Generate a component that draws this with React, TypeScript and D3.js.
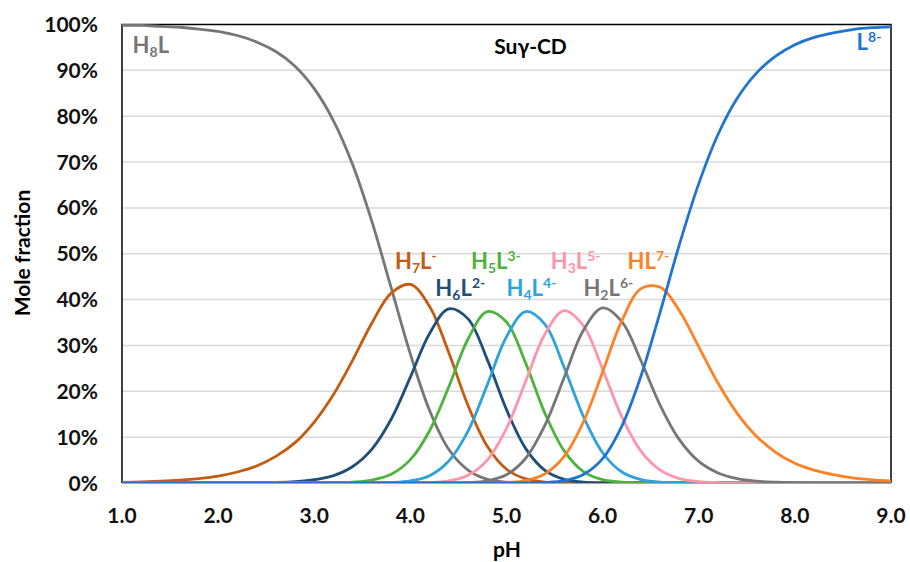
import React, { useRef, useEffect } from "react";
import * as d3 from "d3";

// pH grid and mole fractions (%)
const ph = [
  1.0, 1.2, 1.4, 1.6, 1.8, 2.0, 2.2, 2.4, 2.6, 2.8, 3.0, 3.2, 3.4, 3.6, 3.8, 4.0, 4.2, 4.4, 4.6, 4.8, 5.0,
  5.2, 5.4, 5.6, 5.8, 6.0, 6.2, 6.4, 6.6, 6.8, 7.0, 7.2, 7.4, 7.6, 7.8, 8.0, 8.2, 8.4, 8.6, 8.8, 9.0,
];

const h8l = [
  99.8, 99.8, 99.6, 99.4, 99.0, 98.5, 97.6, 96.2, 94.1, 90.9, 86.0, 79.0, 69.4, 57.0, 42.6, 28.1, 15.8, 7.3, 2.8, 0.8, 0.2,
  0.04, 0.01, 0, 0, 0, 0, 0, 0, 0, 0, 0, 0, 0, 0, 0, 0, 0, 0, 0, 0,
];
const h7l = [
  0.15, 0.24, 0.39, 0.61, 0.96, 1.5, 2.4, 3.7, 5.8, 8.8, 13.3, 19.3, 26.8, 34.9, 41.4, 43.3, 38.5, 28.4, 16.9, 8.0, 3.0,
  0.9, 0.21, 0.04, 0, 0, 0, 0, 0, 0, 0, 0, 0, 0, 0, 0, 0, 0, 0, 0, 0,
];
const h6l = [
  0, 0, 0, 0, 0, 0, 0.02, 0.05, 0.12, 0.3, 0.71, 1.6, 3.6, 7.4, 13.9, 23.1, 32.6, 38.0, 35.8, 26.9, 16.0,
  7.5, 2.75, 0.8, 0.18, 0.03, 0, 0, 0, 0, 0, 0, 0, 0, 0, 0, 0, 0, 0, 0, 0,
];
const h5l = [
  0, 0, 0, 0, 0, 0, 0, 0, 0, 0, 0.02, 0.06, 0.2, 0.65, 1.9, 5.1, 11.4, 21.0, 31.4, 37.4, 35.1,
  26.1, 15.2, 7.0, 2.5, 0.73, 0.17, 0.03, 0, 0, 0, 0, 0, 0, 0, 0, 0, 0, 0, 0, 0,
];
const h4l = [
  0, 0, 0, 0, 0, 0, 0, 0, 0, 0, 0, 0, 0, 0.02, 0.11, 0.46, 1.6, 4.8, 11.3, 21.4, 31.9,
  37.4, 34.6, 25.2, 14.5, 6.6, 2.4, 0.73, 0.19, 0.04, 0, 0, 0, 0, 0, 0, 0, 0, 0, 0, 0,
];
const h3l = [
  0, 0, 0, 0, 0, 0, 0, 0, 0, 0, 0, 0, 0, 0, 0, 0.02, 0.1, 0.45, 1.7, 5.0, 11.9,
  22.2, 32.5, 37.6, 34.3, 24.8, 14.4, 6.9, 2.8, 0.96, 0.3, 0.09, 0.02, 0, 0, 0, 0, 0, 0, 0, 0,
];
const h2l = [
  0, 0, 0, 0, 0, 0, 0, 0, 0, 0, 0, 0, 0, 0, 0, 0, 0, 0.02, 0.1, 0.49, 1.8,
  5.4, 12.6, 23.0, 33.3, 38.2, 35.2, 26.6, 16.9, 9.4, 4.7, 2.2, 0.95, 0.4, 0.17, 0.07, 0.03, 0, 0, 0, 0,
];
const hl = [
  0, 0, 0, 0, 0, 0, 0, 0, 0, 0, 0, 0, 0, 0, 0, 0, 0, 0, 0, 0.02, 0.12,
  0.54, 2.0, 5.8, 13.3, 24.2, 35.4, 42.4, 42.7, 37.5, 29.7, 21.8, 15.2, 10.2, 6.7, 4.3, 2.8, 1.8, 1.1, 0.7, 0.45,
];
const l8 = [
  0, 0, 0, 0, 0, 0, 0, 0, 0, 0, 0, 0, 0, 0, 0, 0, 0, 0, 0, 0, 0,
  0.02, 0.11, 0.51, 1.85, 5.3, 12.4, 23.4, 37.4, 52.1, 65.3, 76.0, 83.9, 89.4, 93.1, 95.6, 97.2, 98.2, 98.9, 99.3, 99.5,
];

const xTicks = [1, 2, 3, 4, 5, 6, 7, 8, 9];
const yTicks = [0, 10, 20, 30, 40, 50, 60, 70, 80, 90, 100];

const series = [
  { key: "H8L", values: h8l, color: "#767676" },
  { key: "H7L", values: h7l, color: "#c55a11" },
  { key: "H6L", values: h6l, color: "#1f4e79" },
  { key: "H5L", values: h5l, color: "#4cb33c" },
  { key: "H4L", values: h4l, color: "#2ea2dd" },
  { key: "H3L", values: h3l, color: "#ff94aa" },
  { key: "H2L", values: h2l, color: "#767676" },
  { key: "HL", values: hl, color: "#ff8125" },
  { key: "L", values: l8, color: "#1f74d2" },
];

// label text pieces, anchored in data units (pH, %)
const labels = [
  { base: "H", sub: "8", tail: "L", sup: "", x: 1.11, y: 93.8, color: "#767676", anchor: "start" },
  { base: "H", sub: "7", tail: "L", sup: "-", x: 3.84, y: 46.6, color: "#c55a11", anchor: "start" },
  { base: "H", sub: "6", tail: "L", sup: "2-", x: 4.26, y: 40.8, color: "#1f4e79", anchor: "start" },
  { base: "H", sub: "5", tail: "L", sup: "3-", x: 4.63, y: 46.6, color: "#4cb33c", anchor: "start" },
  { base: "H", sub: "4", tail: "L", sup: "4-", x: 5.0, y: 40.8, color: "#2ea2dd", anchor: "start" },
  { base: "H", sub: "3", tail: "L", sup: "5-", x: 5.46, y: 46.6, color: "#ff94aa", anchor: "start" },
  { base: "H", sub: "2", tail: "L", sup: "6-", x: 5.8, y: 40.8, color: "#767676", anchor: "start" },
  { base: "H", sub: "", tail: "L", sup: "7-", x: 6.26, y: 46.6, color: "#ff8125", anchor: "start" },
  { base: "", sub: "", tail: "L", sup: "8-", x: 8.9, y: 94.4, color: "#1f74d2", anchor: "end" },
];

const FONT = "Lato, 'Open Sans', sans-serif";

const App = () => {
  const container = useRef(null);

  const width = 910;
  const height = 562;
  const left = 122;
  const right = 891;
  const top = 24.5;
  const bottom = 483;

  useEffect(() => {
    const svg = d3.select(container.current);
    svg.selectAll("*").remove();

    const xScale = d3.scaleLinear().domain([1, 9]).range([left, right]);
    const yScale = d3.scaleLinear().domain([0, 100]).range([bottom, top]);

    svg
      .append("defs")
      .append("clipPath")
      .attr("id", "plot-clip")
      .append("rect")
      .attr("x", left)
      .attr("y", top - 2)
      .attr("width", right - left)
      .attr("height", bottom - top + 2);

    // gridlines
    svg
      .append("g")
      .selectAll("line")
      .data(yTicks.filter((t) => t > 0 && t < 100))
      .enter()
      .append("line")
      .attr("x1", left)
      .attr("x2", right)
      .attr("y1", (d) => yScale(d))
      .attr("y2", (d) => yScale(d))
      .attr("stroke", "#d9d9d9")
      .attr("stroke-width", 1.5);

    // bottom axis line
    svg
      .append("line")
      .attr("x1", left)
      .attr("x2", right)
      .attr("y1", bottom)
      .attr("y2", bottom)
      .attr("stroke", "#8a8a8a")
      .attr("stroke-width", 1.5);

    // frame left/top/right
    svg
      .append("path")
      .attr("d", `M${left},${bottom}V${top}H${right}V${bottom}`)
      .attr("fill", "none")
      .attr("stroke", "#000")
      .attr("stroke-width", 1.5);

    // curves
    const line = d3
      .line<number>()
      .x((d, i) => xScale(ph[i]))
      .y((d) => yScale(d))
      .curve(d3.curveCatmullRom.alpha(0.5));

    svg
      .append("g")
      .attr("clip-path", "url(#plot-clip)")
      .selectAll("path")
      .data(series)
      .enter()
      .append("path")
      .attr("d", (d) => line(d.values))
      .attr("fill", "none")
      .attr("stroke", (d) => d.color)
      .attr("stroke-width", 2.8)
      .attr("stroke-linejoin", "round");

    // y tick labels
    svg
      .append("g")
      .selectAll("text")
      .data(yTicks)
      .enter()
      .append("text")
      .attr("x", 98)
      .attr("y", (d) => yScale(d))
      .attr("dy", "0.36em")
      .attr("text-anchor", "end")
      .style("font-family", FONT)
      .style("font-weight", "bold")
      .style("font-size", "21px")
      .style("fill", "#111")
      .text((d) => `${d}%`);

    // x tick labels
    svg
      .append("g")
      .selectAll("text")
      .data(xTicks)
      .enter()
      .append("text")
      .attr("x", (d) => xScale(d))
      .attr("y", 523)
      .attr("text-anchor", "middle")
      .style("font-family", FONT)
      .style("font-weight", "bold")
      .style("font-size", "21px")
      .style("fill", "#111")
      .text((d) => d.toFixed(1));

    // axis titles
    svg
      .append("text")
      .attr("x", 507)
      .attr("y", 557)
      .attr("text-anchor", "middle")
      .style("font-family", FONT)
      .style("font-weight", "bold")
      .style("font-size", "21px")
      .text("pH");

    svg
      .append("text")
      .attr("transform", `translate(30, 253) rotate(-90)`)
      .attr("text-anchor", "middle")
      .style("font-family", FONT)
      .style("font-weight", "bold")
      .style("font-size", "21px")
      .text("Mole fraction");

    // chart title
    svg
      .append("text")
      .attr("x", xScale(5.25))
      .attr("y", yScale(93.6))
      .attr("text-anchor", "middle")
      .style("font-family", FONT)
      .style("font-weight", "bold")
      .style("font-size", "21px")
      .text("Suγ-CD");

    // species labels
    const lab = svg
      .append("g")
      .selectAll("text")
      .data(labels)
      .enter()
      .append("text")
      .attr("x", (d) => xScale(d.x))
      .attr("y", (d) => yScale(d.y))
      .attr("text-anchor", (d) => d.anchor)
      .style("font-family", FONT)
      .style("font-weight", "bold")
      .style("font-size", "22px")
      .style("fill", (d) => d.color);

    lab.each(function (d) {
      const t = d3.select(this);
      if (d.base) t.append("tspan").text(d.base);
      if (d.sub) t.append("tspan").attr("dy", 4).style("font-size", "14px").text(d.sub);
      t.append("tspan").attr("dy", d.sub ? -4 : 0).text(d.tail);
      if (d.sup) t.append("tspan").attr("dy", -8).style("font-size", "14px").text(d.sup);
    });
  }, []);

  return (
    <svg
      ref={container}
      width={width}
      height={height}
      style={{ position: "absolute", left: 0, top: 0, background: "#fff" }}
    />
  );
};

export default App;
